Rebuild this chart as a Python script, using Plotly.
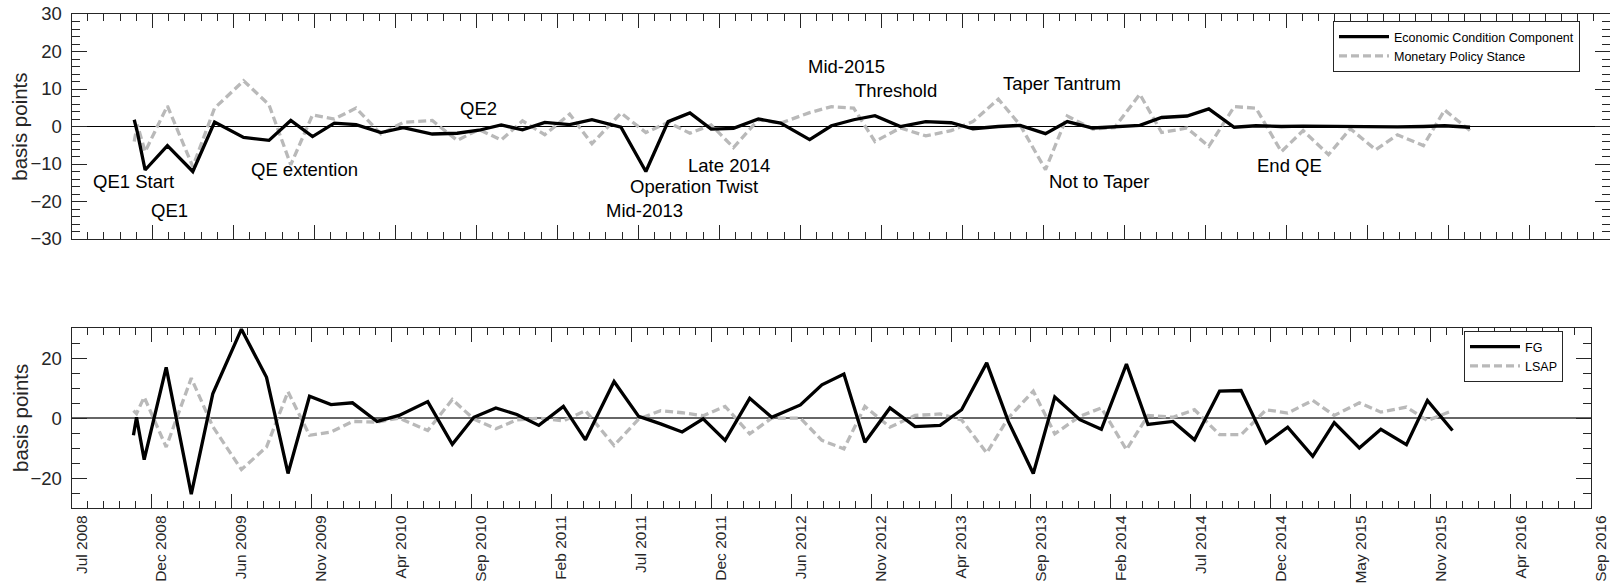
import pandas as pd
import plotly.graph_objects as go

# fechas de los anuncios (FOMC + eventos)
fechas = [
    "2008-11-25", "2008-12-01", "2008-12-16", "2009-01-28", "2009-03-18", "2009-04-29",
    "2009-06-24", "2009-08-12", "2009-09-23", "2009-11-04", "2009-12-16", "2010-01-27",
    "2010-03-16", "2010-04-28", "2010-06-23", "2010-08-10", "2010-09-21", "2010-11-03",
    "2010-12-14", "2011-01-26", "2011-03-15", "2011-04-27", "2011-06-22", "2011-08-09",
    "2011-09-21", "2011-11-02", "2011-12-13", "2012-01-25", "2012-03-13", "2012-04-25",
    "2012-06-20", "2012-08-01", "2012-09-13", "2012-10-24", "2012-12-12", "2013-01-30",
    "2013-03-20", "2013-05-01", "2013-06-19", "2013-07-31", "2013-09-18", "2013-10-30",
    "2013-12-18", "2014-01-29", "2014-03-19", "2014-04-30", "2014-06-18", "2014-07-30",
    "2014-09-17", "2014-10-29", "2014-12-17", "2015-01-28", "2015-03-18", "2015-04-29",
    "2015-06-17", "2015-07-29", "2015-09-17", "2015-10-28", "2015-12-16",
]

economic_condition = [
    1.8, -1.5, -11.6, -5.1, -12.0, 1.2, -2.9, -3.7, 1.6, -2.7, 0.9, 0.5,
    -1.6, -0.3, -2.0, -1.8, -1.0, 0.4, -0.9, 1.1, 0.5, 1.8, -0.2, -12.0,
    1.3, 3.6, -0.7, -0.5, 2.0, 0.9, -3.5, 0.2, 1.8, 2.9, 0.0, 1.3,
    1.0, -0.6, 0.0, 0.3, -1.9, 1.3, -0.4, -0.1, 0.3, 2.4, 2.8, 4.7,
    -0.2, 0.2, 0.0, 0.1, 0.0, 0.1, -0.1, -0.1, 0.0, 0.2, -0.2,
]

policy_stance = [
    -4.0, 0.5, -6.7, 5.5, -10.7, 4.9, 12.2, 5.8, -10.2, 3.1, 2.0, 4.9,
    -2.0, 1.1, 1.6, -3.7, -0.8, -3.6, 1.5, -2.2, 3.3, -4.6, 3.6, -1.6,
    1.1, -1.8, 0.4, -5.6, 1.8, 0.9, 3.7, 5.3, 4.9, -4.0, -0.4, -2.5,
    -1.1, 1.3, 7.3, 0.4, -11.5, 2.8, -0.7, -0.3, 8.6, -1.6, -0.4, -5.3,
    5.3, 4.9, -6.7, -1.1, -7.5, -0.6, -6.2, -2.2, -5.1, 4.4, -1.1,
]

fg = [
    -5.7, 0.3, -13.8, 16.9, -25.3, 8.1, 29.6, 13.6, -18.4, 7.3, 4.5, 5.1,
    -1.1, 0.9, 5.5, -8.7, 0.3, 3.4, 1.2, -2.4, 3.9, -7.2, 12.2, 0.6,
    -1.9, -4.6, -0.2, -7.4, 6.6, 0.3, 4.4, 11.1, 14.7, -8.0, 3.4, -2.8,
    -2.4, 2.8, 18.4, -1.0, -18.4, 7.0, -0.5, -3.7, 18.0, -2.1, -1.1, -7.2,
    9.0, 9.2, -8.3, -3.0, -12.7, -1.5, -9.9, -3.7, -8.8, 5.9, -4.1,
]

lsap = [
    2.5, 1.5, 7.0, -9.6, 13.3, -2.8, -17.1, -9.6, 8.8, -5.7, -4.6, -1.1,
    -1.3, 0.0, -4.1, 6.2, -0.3, -3.5, -0.6, 0.0, -0.9, 2.5, -9.1, -0.3,
    2.5, 1.8, 0.8, 3.9, -5.2, 0.0, 0.0, -7.4, -10.2, 3.9, -3.0, 0.9,
    1.4, -0.6, -11.6, 0.0, 9.0, -5.2, 0.6, 3.4, -10.5, 0.9, 0.3, 2.8,
    -5.5, -5.5, 2.8, 1.7, 5.9, 0.9, 5.1, 2.0, 3.7, -0.8, 2.5,
]

tick_labels = [
    "Jul 2008", "Dec 2008", "Jun 2009", "Nov 2009", "Apr 2010", "Sep 2010", "Feb 2011",
    "Jul 2011", "Dec 2011", "Jun 2012", "Nov 2012", "Apr 2013", "Sep 2013", "Feb 2014",
    "Jul 2014", "Dec 2014", "May 2015", "Nov 2015", "Apr 2016", "Sep 2016",
]

# eventos (texto, fecha, valor)
eventos = [
    ("QE1 Start", "2008-11-24", -14.6),
    ("QE1", "2009-02-01", -22.4),
    ("QE extention", "2009-10-19", -11.5),
    ("QE2", "2010-09-21", 4.8),
    ("Late 2014", "2012-01-16", -10.4),
    ("Operation Twist", "2011-11-10", -16.0),
    ("Mid-2013", "2011-08-06", -22.3),
    ("Mid-2015", "2012-08-31", 15.9),
    ("Threshold", "2012-12-04", 9.7),
    ("Taper Tantrum", "2013-10-19", 11.5),
    ("Not to Taper", "2013-12-31", -14.6),
    ("End QE", "2015-01-02", -10.4),
]

x_ini, x_fin = "2008-07-27", "2016-09-11"
ticks = pd.date_range(x_ini, x_fin, periods=20)
ticks_menores = pd.date_range(x_ini, x_fin, periods=96)

NEGRO = "black"
GRIS = "#b9b9b9"
EJE = "#262626"
FUENTE = "Liberation Sans, Arial, sans-serif"

fig = go.Figure()

# 🔹 panel superior
fig.add_trace(go.Scatter(x=fechas, y=policy_stance, name="Monetary Policy Stance",
                         mode="lines", line=dict(color=GRIS, width=3.3, dash="8px,4px"),
                         xaxis="x", yaxis="y", legend="legend", legendrank=2))
fig.add_trace(go.Scatter(x=fechas, y=economic_condition, name="Economic Condition Component",
                         mode="lines", line=dict(color=NEGRO, width=3.3),
                         xaxis="x", yaxis="y", legend="legend", legendrank=1))

# 🔹 panel inferior
fig.add_trace(go.Scatter(x=fechas, y=lsap, name="LSAP",
                         mode="lines", line=dict(color=GRIS, width=3.3, dash="8px,4px"),
                         xaxis="x2", yaxis="y2", legend="legend2", legendrank=2))
fig.add_trace(go.Scatter(x=fechas, y=fg, name="FG",
                         mode="lines", line=dict(color=NEGRO, width=3.3),
                         xaxis="x2", yaxis="y2", legend="legend2", legendrank=1))

eje_x = dict(
    type="date", range=[x_ini, x_fin], tickmode="array", tickvals=ticks,
    ticks="inside", ticklen=14, tickcolor=EJE, tickwidth=1,
    minor=dict(tickmode="array", tickvals=ticks_menores, ticks="inside",
               ticklen=7, tickcolor=EJE, tickwidth=1),
    showline=True, linecolor=EJE, linewidth=1, mirror="allticks",
    showgrid=False, zeroline=False, automargin=False,
)
eje_y = dict(
    range=[-30, 30], ticks="inside", tickcolor=EJE, tickwidth=1, ticklen=15,
    showline=True, linecolor=EJE, linewidth=1, mirror="allticks",
    showgrid=False, automargin=False, ticklabelstandoff=5,
    tickfont=dict(size=18.5, color=EJE, family=FUENTE),
)

fig.update_layout(
    width=1610, height=584,
    margin=dict(l=0, r=0, t=0, b=0, autoexpand=False),
    plot_bgcolor="white", paper_bgcolor="white",
    font=dict(family=FUENTE, color="black"),
    xaxis=dict(eje_x, domain=[71.5 / 1610, 1.0], anchor="y", showticklabels=False),
    yaxis=dict(eje_y, domain=[1 - 239 / 584, 1 - 14 / 584], anchor="x",
               tickvals=list(range(-30, 31, 10)),
               minor=dict(dtick=2, tick0=0, ticks="inside", ticklen=8, tickcolor=EJE),
               zeroline=True, zerolinecolor="black", zerolinewidth=1),
    xaxis2=dict(eje_x, domain=[71.5 / 1610, 1590.7 / 1610], anchor="y2",
                ticktext=tick_labels, tickangle=-90, ticklabelshift=10,
                tickfont=dict(size=15.5, color=EJE, family=FUENTE)),
    yaxis2=dict(eje_y, domain=[1 - 508.3 / 584, 1 - 328 / 584], anchor="x2",
                tickvals=[-20, 0, 20],
                minor=dict(dtick=5, tick0=0, ticks="inside", ticklen=8, tickcolor=EJE),
                zeroline=True, zerolinecolor="#666666", zerolinewidth=1.5),
    legend=dict(x=1580 / 1610, xanchor="right", y=1 - 21 / 584, yanchor="top",
                bgcolor="white", bordercolor=EJE, borderwidth=1,
                font=dict(size=12.5, family=FUENTE), tracegroupgap=0, itemwidth=50),
    legend2=dict(x=1563 / 1610, xanchor="right", y=1 - 331 / 584, yanchor="top",
                 bgcolor="white", bordercolor=EJE, borderwidth=1,
                 font=dict(size=12.5, family=FUENTE), tracegroupgap=0, itemwidth=50),
    showlegend=True,
)

# 🔹 etiquetas de eventos
for texto, fecha, valor in eventos:
    fig.add_annotation(x=fecha, y=valor, xref="x", yref="y", text=texto, showarrow=False,
                       xanchor="center", yanchor="middle",
                       font=dict(size=18.5, family=FUENTE, color="black"))

# 🔹 títulos eje y
for yc in [1 - 126.7 / 584, 1 - 418 / 584]:
    fig.add_annotation(x=20 / 1610, y=yc, xref="paper", yref="paper", text="basis points",
                       textangle=-90, showarrow=False, xanchor="center", yanchor="middle",
                       font=dict(size=20.5, family=FUENTE, color=EJE))

# sin margen del body para que la figura ocupe la ventana completa
fig.write_html("out.html", config={"displayModeBar": False},
               post_script="document.body.style.margin='0px';")
